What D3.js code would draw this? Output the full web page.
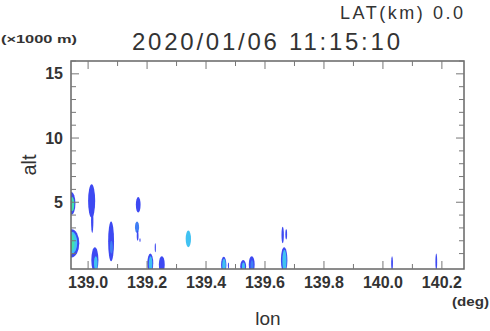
<!DOCTYPE html>
<html><head><meta charset="utf-8">
<script src="https://cdn.jsdelivr.net/npm/d3@7"></script>
<style>body{margin:0;background:#fff}svg{display:block}</style>
</head><body><div id="c"></div>
<script>
// ---- data ----
const titleText = "2020/01/06 11:15:10";
const latText = "LAT(km) 0.0";
const yUnitText = "(\u00d71000 m)";
const xUnitText = "(deg)";
const xLabel = "lon";
const yLabel = "alt";
const xTicks = [139.0, 139.2, 139.4, 139.6, 139.8, 140.0, 140.2];
const yTicks = [5, 10, 15];
// echo cells: centre longitude, half width (deg), base/top altitude (km), intensity level
const cellLon  = [138.943,138.946,138.944,138.945,138.944,139.012,139.014,139.023,139.026,139.078,139.079,139.170,139.166,139.168,139.176,139.211,139.212,139.228,139.250,139.340,139.460,139.461,139.476,139.526,139.527,139.555,139.556,139.660,139.672,139.665,139.666,140.031,140.181];
const cellHalf = [0.014,0.007,0.026,0.018,0.010,0.012,0.004,0.012,0.006,0.010,0.005,0.008,0.007,0.003,0.002,0.010,0.006,0.002,0.010,0.009,0.009,0.006,0.002,0.010,0.005,0.010,0.005,0.004,0.003,0.011,0.007,0.003,0.003];
const cellBase = [4.0,4.3,0.7,1.0,1.2,3.8,2.6,-0.5,-0.3,0.4,1.0,4.2,2.6,2.0,1.9,-0.5,-0.4,1.1,-0.5,1.5,-0.5,-0.4,-0.2,-0.5,-0.4,-0.5,-0.4,1.8,2.1,-0.5,-0.4,-0.3,-0.3];
const cellTop  = [5.8,5.4,2.9,2.7,2.5,6.4,4.5,1.5,0.8,3.5,2.0,5.4,3.5,2.8,2.2,1.0,0.8,1.8,0.8,2.8,0.75,0.6,0.3,0.5,0.3,0.8,0.5,3.1,2.9,1.5,1.3,0.8,1.0];
const cellLevel= [1,4,1,3,4,1,1,1,3,1,2,1,2,1,1,1,3,1,1,3,1,3,1,1,3,1,2,1,1,1,3,1,1];
const levelColors = ["#3d48f2","#3f7ef4","#40c2f2","#40e2b0"];

// ---- layout ----
const W = 490, H = 331;
const m = {l:71, r:464, t:61, b:269};
const x = d3.scaleLinear().domain([138.942, 140.275]).range([m.l, m.r]);
const y = d3.scaleLinear().domain([-0.2, 16]).range([m.b, m.t]);

const svg = d3.select("#c").append("svg").attr("width", W).attr("height", H)
  .style("font-family", "'Liberation Sans', Arial, sans-serif");

const defs = svg.append("defs");
defs.append("clipPath").attr("id","clip").append("rect")
  .attr("x", m.l).attr("y", m.t).attr("width", m.r-m.l).attr("height", m.b-m.t);
defs.append("filter").attr("id","blur").append("feGaussianBlur").attr("stdDeviation", 0.6);

const cells = d3.range(cellLon.length).map(i => ({
  lon: cellLon[i], half: cellHalf[i], b: cellBase[i], t: cellTop[i], lv: cellLevel[i]
}));

svg.append("g").attr("clip-path","url(#clip)").append("g").attr("filter","url(#blur)")
  .selectAll("ellipse").data(cells).join("ellipse")
  .attr("cx", d => x(d.lon))
  .attr("cy", d => y((d.b + d.t)/2))
  .attr("rx", d => x(d.lon + d.half) - x(d.lon))
  .attr("ry", d => (y(d.b) - y(d.t))/2)
  .attr("fill", d => levelColors[d.lv-1]);

// ---- axes / frame ----
const axisCol = "#777";
const xMinor = d3.range(139.0, 140.25, 0.1).map(v => +v.toFixed(1));
const yMinor = d3.range(1, 16.5, 1);
const frame = svg.append("g").attr("stroke", axisCol).attr("fill","none");
frame.append("rect").attr("x", m.l).attr("y", m.t).attr("width", m.r-m.l).attr("height", m.b-m.t)
  .attr("stroke-width", 1.5).attr("stroke","#666");
const isMajX = v => xTicks.some(t => Math.abs(t - v) < 1e-6);
const isMajY = v => yTicks.includes(v);
xMinor.forEach(v => {
  const L = isMajX(v) ? 8 : 5;
  frame.append("line").attr("x1", x(v)).attr("x2", x(v)).attr("y1", m.b).attr("y2", m.b - L);
  frame.append("line").attr("x1", x(v)).attr("x2", x(v)).attr("y1", m.t).attr("y2", m.t + L);
});
yMinor.forEach(v => {
  const L = isMajY(v) ? 8 : 5;
  frame.append("line").attr("y1", y(v)).attr("y2", y(v)).attr("x1", m.l).attr("x2", m.l + L);
  frame.append("line").attr("y1", y(v)).attr("y2", y(v)).attr("x1", m.r).attr("x2", m.r - L);
});

const txtCol = "#333";
svg.append("g").selectAll("text").data(xTicks).join("text")
  .attr("x", d => x(d)).attr("y", 288).attr("text-anchor","middle")
  .attr("font-size", 16).attr("font-weight","bold").attr("fill", txtCol)
  .text(d => d.toFixed(1));
svg.append("g").selectAll("text").data(yTicks).join("text")
  .attr("x", 63).attr("y", d => y(d) + 5.5).attr("text-anchor","end")
  .attr("font-size", 16).attr("font-weight","bold").attr("fill", txtCol)
  .text(d => d);

svg.append("text").attr("x", 132).attr("y", 50).attr("font-size", 24).attr("fill", txtCol)
  .attr("textLength", 268).attr("lengthAdjust","spacing").text(titleText);
svg.append("text").attr("x", 340).attr("y", 19).attr("font-size", 18).attr("fill", txtCol)
  .attr("textLength", 123).attr("lengthAdjust","spacing").text(latText);
svg.append("text").attr("x", 1).attr("y", 43).attr("font-size", 11).attr("font-weight","bold").attr("fill", txtCol)
  .attr("textLength", 76).attr("lengthAdjust","spacingAndGlyphs").text(yUnitText);
svg.append("text").attr("x", 452).attr("y", 306).attr("font-size", 13).attr("font-weight","bold").attr("fill", txtCol)
  .attr("textLength", 37).attr("lengthAdjust","spacingAndGlyphs").text(xUnitText);
svg.append("text").attr("x", 268).attr("y", 325).attr("text-anchor","middle").attr("font-size", 19).attr("fill", txtCol)
  .text(xLabel);
svg.append("text").attr("transform","translate(36,165) rotate(-90)").attr("text-anchor","middle")
  .attr("font-size", 20).attr("fill", txtCol).text(yLabel);
</script></body></html>
